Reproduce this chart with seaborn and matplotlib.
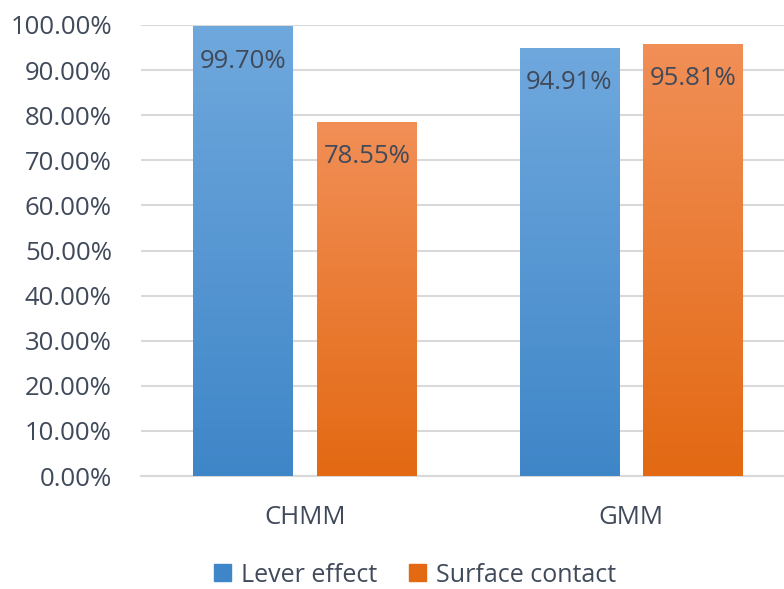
import matplotlib
matplotlib.use("Agg")
import matplotlib.pyplot as plt
import matplotlib.colors as mcolors
import matplotlib.ticker as mticker
import numpy as np
import pandas as pd
import seaborn as sns

# dados
modelos = ["CHMM", "GMM"]
series = ["Lever effect", "Surface contact"]
lever_effect = [99.70, 94.91]
surface_contact = [78.55, 95.81]

cores = {"Lever effect": ("#6FA8DD", "#3F86C8"),
         "Surface contact": ("#F18F57", "#E36913")}
cor_texto = "#404A5A"
tam = 18.5

df = pd.DataFrame({
    "modelo": modelos * 2,
    "serie": [series[0]] * 2 + [series[1]] * 2,
    "valor": lever_effect + surface_contact,
})

sns.set_style("white")
plt.rcParams["font.family"] = ["Open Sans", "DejaVu Sans"]

fig = plt.figure(figsize=(7.84, 5.89), dpi=100)
ax = fig.add_axes([141 / 784, 1 - 476 / 589, 1 - 141 / 784, (476 - 25) / 589])

sns.barplot(data=df, x="modelo", y="valor", hue="serie", hue_order=series,
            palette=[cores[s][1] for s in series], width=0.76, gap=0.2,
            ax=ax, legend=False, zorder=3)

# gradiente vertical em cada barra
grad = np.linspace(0, 1, 256).reshape(-1, 1)
for i, cont in enumerate(ax.containers):
    topo, base = cores[series[i]]
    cmap = mcolors.LinearSegmentedColormap.from_list("g", [base, topo])
    for barra in cont:
        x0, y0 = barra.get_x(), barra.get_y()
        w, h = barra.get_width(), barra.get_height()
        img = ax.imshow(grad, cmap=cmap, extent=(x0, x0 + w, y0, y0 + h),
                        origin="lower", aspect="auto", zorder=3)
        img.set_clip_path(barra)
        barra.set_facecolor("none")
        barra.set_edgecolor("none")
        ax.annotate(f"{h:.2f}%", (x0 + w / 2, y0 + h), xytext=(0, -25),
                    textcoords="offset points", ha="center", va="center",
                    fontsize=tam, color=cor_texto, zorder=5)

ax.set_xlim(-0.503, 1.469)
ax.set_ylim(0, 100)
ax.yaxis.set_major_locator(mticker.MultipleLocator(10))
ax.yaxis.set_major_formatter(mticker.FuncFormatter(lambda v, p: f"{v:.2f}%"))
ax.grid(axis="y", color="#D9D9D9", linewidth=1.5, zorder=0)
ax.set_axisbelow(True)
for lado in ["top", "right", "left"]:
    ax.spines[lado].set_visible(False)
ax.spines["bottom"].set_color("#D9D9D9")
ax.spines["bottom"].set_linewidth(1.5)
ax.tick_params(axis="y", length=0, pad=21, labelsize=tam, labelcolor=cor_texto)
ax.tick_params(axis="x", length=0, pad=21, labelsize=tam, labelcolor=cor_texto)
ax.set_xlabel("")
ax.set_ylabel("")

alcas = [plt.Rectangle((0, 0), 1, 1, color=cores[s][1]) for s in series]
fig.legend(alcas, series, loc="center", bbox_to_anchor=(415 / 784, 1 - 575 / 589),
           ncol=2, frameon=False, fontsize=18, labelcolor=cor_texto,
           handlelength=0.65, handleheight=0.65, handletextpad=0.4, columnspacing=1.3,
           borderpad=0.2)

fig.savefig("out.png", dpi=100)
